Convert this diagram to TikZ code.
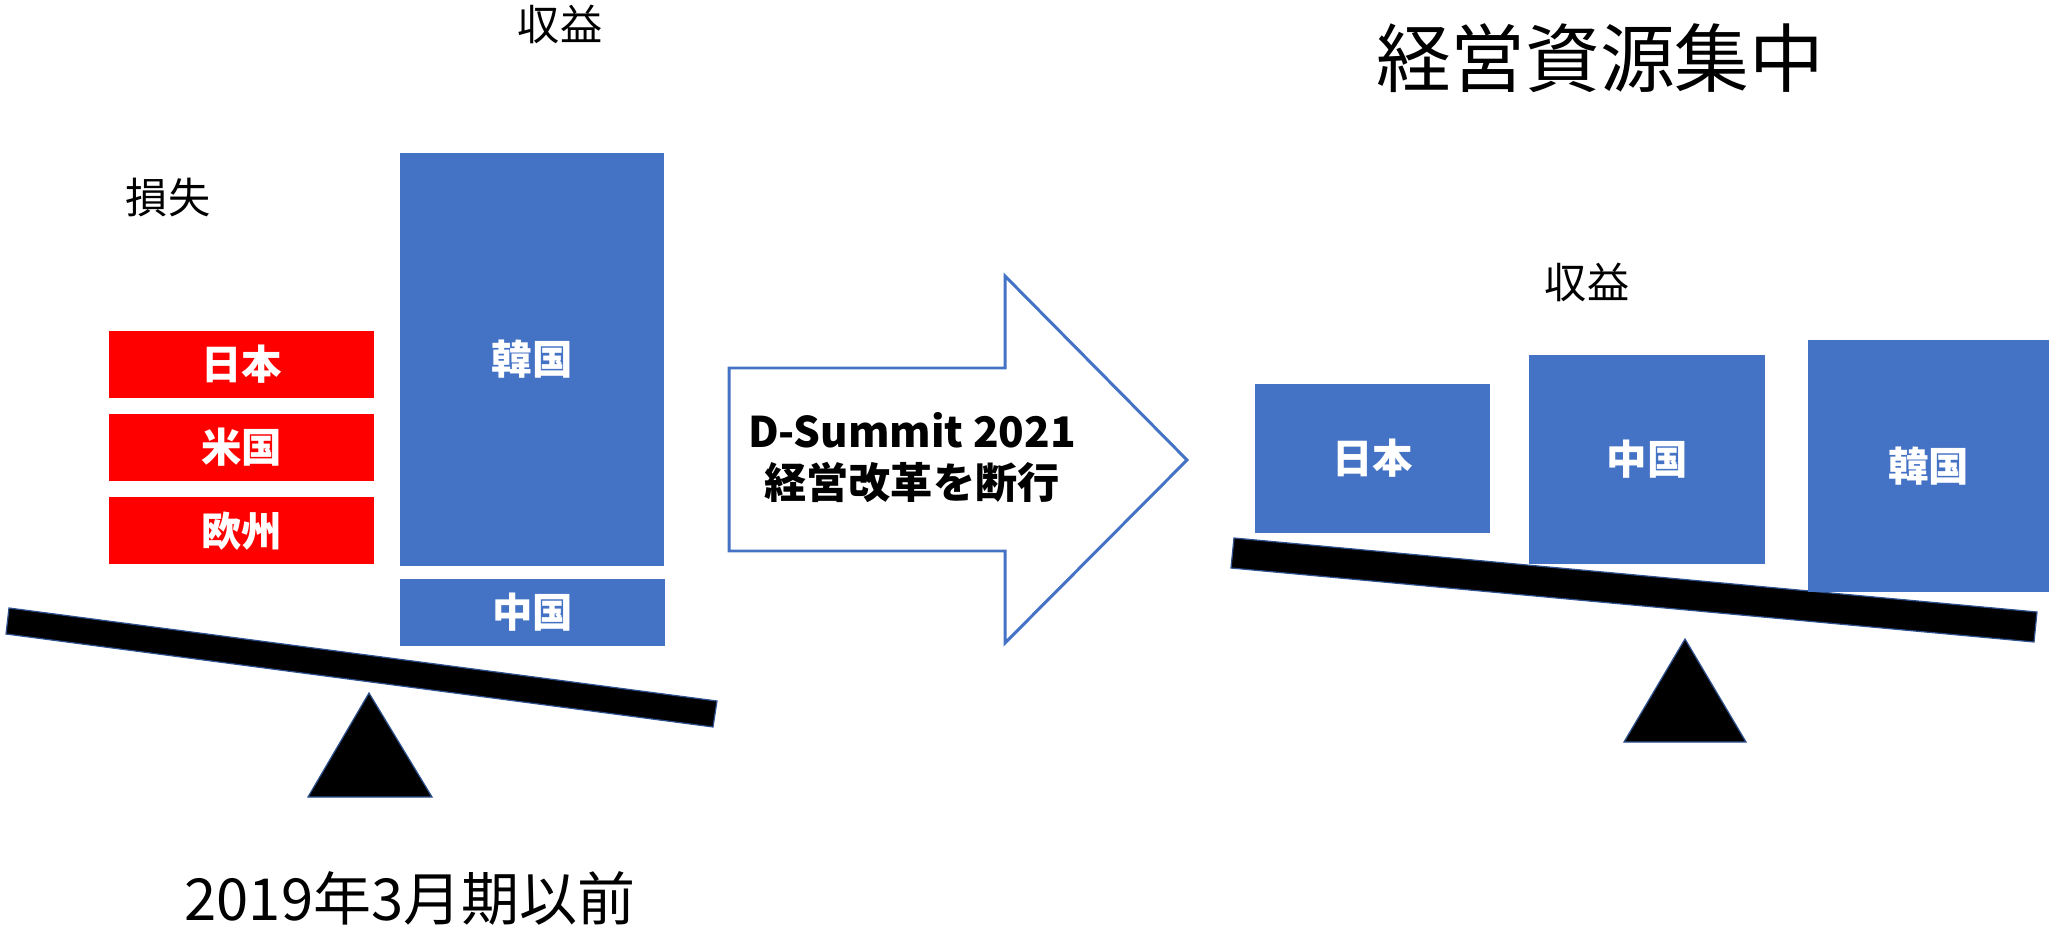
\documentclass[tikz,border=0pt]{standalone}
\usepackage{fontspec}
\setmainfont{Noto Sans CJK JP}
\usepackage{xcolor}
\usetikzlibrary{positioning}
\definecolor{boxblue}{HTML}{4472C4}
\definecolor{lineblue}{HTML}{2F528F}

\begin{document}
\begin{tikzpicture}[x=0.02cm,y=-0.02cm,
every node/.style={inner sep=0pt},
loss/.style={rectangle,fill=red,text=white,minimum width=5.3cm,minimum height=1.34cm,font=\fontsize{23}{27}\selectfont\bfseries},
gain/.style={rectangle,fill=boxblue,text=white,font=\fontsize{23}{27}\selectfont\bfseries},
plain/.style={font=\fontsize{24}{29}\selectfont},
beam/.style={fill=black,draw=lineblue,line width=0.7pt},
pivot/.style={fill=black,draw=lineblue,line width=0.7pt}]
\useasboundingbox (0,0) rectangle (2049,926);
% before
\draw[beam] (9,608) -- (717,701) -- (713,727) -- (6,634) -- cycle;
\draw[pivot] (369,693) -- (432,797) -- (308,797) -- cycle;
\node (jp) at (241.5,364.5) [loss] {日本};
\node (us) [loss,below=0.3cm of jp] {米国};
\node (eu) [loss,below=0.32cm of us] {欧州};
\node (kr) at (532,359.5) [gain,minimum width=5.28cm,minimum height=8.26cm] {韓国};
\node (cn) at (532.5,612.5) [gain,minimum width=5.3cm,minimum height=1.34cm] {中国};
\node (lossL) at (168,197) [plain] {損失};
\node (gainL) at (560,24) [plain] {収益};
\node (before) at (410,898) [font=\fontsize{33}{39}\selectfont] {2019年3月期以前};
% reform arrow
\draw[boxblue,fill=white,line width=1.7pt] (729,368) -- (1005,368) -- (1005,276) -- (1187,460)
-- (1005,643) -- (1005,551) -- (729,551) -- cycle;
\node (reform) at (912,458) [align=center,font=\fontsize{24}{29}\selectfont\bfseries] {D-Summit 2021\\経営改革を断行};
% after
\draw[beam] (1234,538) -- (2037,612) -- (2034,642) -- (1231,568) -- cycle;
\draw[pivot] (1685,639) -- (1746,742) -- (1624,742) -- cycle;
\node (jp2) at (1372.5,458.5) [gain,minimum width=4.7cm,minimum height=2.98cm] {日本};
\node (cn2) at (1647,459.5) [gain,minimum width=4.72cm,minimum height=4.18cm] {中国};
\node (kr2) at (1928.5,466) [gain,minimum width=4.82cm,minimum height=5.04cm] {韓国};
\node (gainR) at (1587,282) [plain] {収益};
\node (title) at (1600,58) [font=\fontsize{42.5}{50}\selectfont] {経営資源集中};
\end{tikzpicture}
\end{document}
